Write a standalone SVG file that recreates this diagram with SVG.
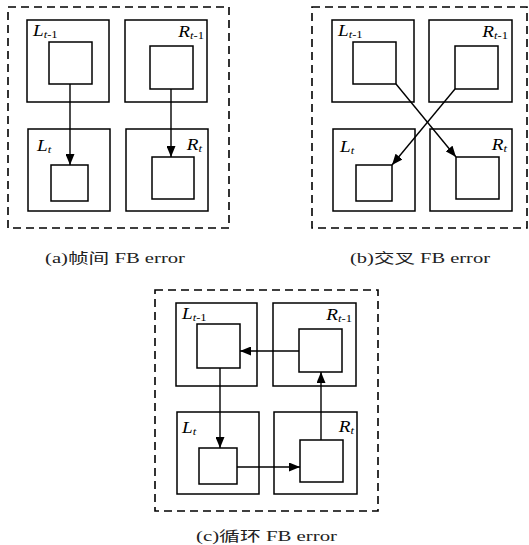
<svg xmlns="http://www.w3.org/2000/svg" width="529" height="545" viewBox="0 0 529 545">
  <defs>
    <marker id="arrow" markerUnits="userSpaceOnUse" markerWidth="11" markerHeight="9" refX="11" refY="4.5" orient="auto">
      <path d="M0,0 L11,4.5 L0,9 z" fill="#000"/>
    </marker>
    <style>
      .frame { fill: none; stroke: #000; stroke-width: 1.6; stroke-dasharray: 8 5; }
      .outer { fill: #fff; stroke: #000; stroke-width: 1.5; }
      .inner { fill: #fff; stroke: #000; stroke-width: 1.5; }
      .conn line { stroke: #000; stroke-width: 1.4; marker-end: url(#arrow); }
      .lbl { font-family: "Liberation Serif", "Times New Roman", serif; font-style: italic; font-size: 16px; fill: #000; }
      .sub { font-size: 10.5px; }
      .up { font-style: normal; }
      .cap { font-family: "Liberation Serif", "Noto Sans CJK SC", serif; font-size: 14px; fill: #222; }
    </style>
  </defs>
  <rect width="529" height="545" fill="#fff"/>

  <!-- (a) inter-frame -->
  <g id="panel-a">
    <rect class="frame" x="8" y="7" width="221" height="221"/>
    <g id="a-Lt1">
      <rect class="outer" x="27" y="20" width="82" height="82"/>
      <rect class="inner" x="49" y="42" width="43" height="42"/>
      <text class="lbl" transform="translate(33,36) scale(1.2,1)">L<tspan class="sub" dy="2">t</tspan><tspan class="sub up">-1</tspan></text>
    </g>
    <g id="a-Rt1">
      <rect class="outer" x="125" y="20" width="82" height="82"/>
      <rect class="inner" x="150" y="46" width="43" height="43"/>
      <text class="lbl" text-anchor="end" transform="translate(204,37) scale(1.2,1)">R<tspan class="sub" dy="2">t</tspan><tspan class="sub up">-1</tspan></text>
    </g>
    <g id="a-Lt">
      <rect class="outer" x="28" y="129" width="82" height="82"/>
      <rect class="inner" x="51" y="165" width="37" height="36"/>
      <text class="lbl" transform="translate(37,151) scale(1.2,1)">L<tspan class="sub" dy="2">t</tspan></text>
    </g>
    <g id="a-Rt">
      <rect class="outer" x="126" y="129" width="82" height="82"/>
      <rect class="inner" x="152" y="157" width="42" height="42"/>
      <text class="lbl" text-anchor="end" transform="translate(202,150) scale(1.2,1)">R<tspan class="sub" dy="2">t</tspan></text>
    </g>
    <text class="cap" x="45" y="263" textLength="140" lengthAdjust="spacingAndGlyphs">(a)帧间 FB error</text>
  </g>

  <!-- (b) cross -->
  <g id="panel-b">
    <rect class="frame" x="312" y="7" width="215" height="221"/>
    <g id="b-Lt1">
      <rect class="outer" x="332" y="20" width="82" height="82"/>
      <rect class="inner" x="353" y="42" width="43" height="42"/>
      <text class="lbl" transform="translate(338,36) scale(1.2,1)">L<tspan class="sub" dy="2">t</tspan><tspan class="sub up">-1</tspan></text>
    </g>
    <g id="b-Rt1">
      <rect class="outer" x="429" y="20" width="83" height="82"/>
      <rect class="inner" x="455" y="46" width="43" height="43"/>
      <text class="lbl" text-anchor="end" transform="translate(508,37) scale(1.2,1)">R<tspan class="sub" dy="2">t</tspan><tspan class="sub up">-1</tspan></text>
    </g>
    <g id="b-Lt">
      <rect class="outer" x="333" y="129" width="82" height="82"/>
      <rect class="inner" x="356" y="165" width="36" height="36"/>
      <text class="lbl" transform="translate(340,152) scale(1.2,1)">L<tspan class="sub" dy="2">t</tspan></text>
    </g>
    <g id="b-Rt">
      <rect class="outer" x="430" y="129" width="82" height="82"/>
      <rect class="inner" x="456" y="157" width="43" height="42"/>
      <text class="lbl" text-anchor="end" transform="translate(507,150) scale(1.2,1)">R<tspan class="sub" dy="2">t</tspan></text>
    </g>
    <text class="cap" x="350" y="263" textLength="140" lengthAdjust="spacingAndGlyphs">(b)交叉 FB error</text>
  </g>

  <!-- (c) cycle -->
  <g id="panel-c">
    <rect class="frame" x="155" y="290" width="223" height="221"/>
    <g id="c-Lt1">
      <rect class="outer" x="176" y="303" width="81" height="83"/>
      <rect class="inner" x="197" y="324" width="43" height="44"/>
      <text class="lbl" transform="translate(182,319) scale(1.2,1)">L<tspan class="sub" dy="2">t</tspan><tspan class="sub up">-1</tspan></text>
    </g>
    <g id="c-Rt1">
      <rect class="outer" x="273" y="303" width="83" height="83"/>
      <rect class="inner" x="299" y="329" width="43" height="43"/>
      <text class="lbl" text-anchor="end" transform="translate(352,320) scale(1.2,1)">R<tspan class="sub" dy="2">t</tspan><tspan class="sub up">-1</tspan></text>
    </g>
    <g id="c-Lt">
      <rect class="outer" x="177" y="412" width="82" height="82"/>
      <rect class="inner" x="199" y="448" width="38" height="36"/>
      <text class="lbl" transform="translate(182,433) scale(1.2,1)">L<tspan class="sub" dy="2">t</tspan></text>
    </g>
    <g id="c-Rt">
      <rect class="outer" x="274" y="412" width="83" height="82"/>
      <rect class="inner" x="300" y="440" width="43" height="42"/>
      <text class="lbl" text-anchor="end" transform="translate(354,432) scale(1.2,1)">R<tspan class="sub" dy="2">t</tspan></text>
    </g>
    <text class="cap" x="196" y="541" textLength="141" lengthAdjust="spacingAndGlyphs">(c)循环 FB error</text>
  </g>

  <!-- connectors -->
  <g id="connectors" class="conn">
    <line x1="70" y1="84" x2="70" y2="165"/>
    <line x1="171" y1="89" x2="171" y2="157"/>
    <line x1="396" y1="84" x2="456" y2="157"/>
    <line x1="455" y1="89" x2="392" y2="165"/>
    <line x1="299" y1="351" x2="240" y2="351"/>
    <line x1="220" y1="368" x2="220" y2="448"/>
    <line x1="237" y1="467" x2="300" y2="467"/>
    <line x1="321" y1="440" x2="321" y2="372"/>
  </g>
</svg>
